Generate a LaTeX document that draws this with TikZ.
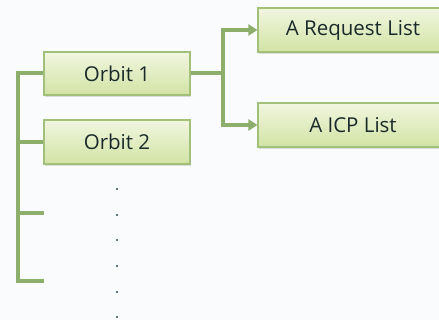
\documentclass[tikz,border=0pt]{standalone}
\usepackage{fontspec}
\setmainfont{Open Sans}
\usetikzlibrary{arrows.meta,shadows}
\definecolor{bgcol}{HTML}{FAFBFD}
\definecolor{boxtop}{HTML}{F1F6E0}
\definecolor{boxbot}{HTML}{D2E3A4}
\definecolor{boxline}{HTML}{A3C07A}
\definecolor{linkcol}{HTML}{8EAE6C}
\definecolor{textcol}{HTML}{1A2A2A}
\definecolor{dotcol}{HTML}{2A4A5A}
\tikzset{
  itembox/.style={draw=boxline, line width=1.1pt, top color=boxtop, bottom color=boxbot,
    text=textcol, font=\fontsize{20.5}{24}\selectfont, inner sep=0pt,
    drop shadow={shadow xshift=0.6pt, shadow yshift=-1.6pt, opacity=0.25}},
  link/.style={draw=linkcol, line width=4pt},
  arrowlink/.style={link, -{Triangle[length=9pt,width=11pt]}},
  vdot/.style={circle, fill=dotcol, inner sep=0pt, minimum size=2.2pt}
}
\begin{document}
\begin{tikzpicture}[x=1pt,y=-1pt]
  \fill[bgcol] (0,0) rectangle (439,320);
  \useasboundingbox (0,0) rectangle (439,320);

  % orbit boxes
  \node[itembox, minimum width=146pt, minimum height=43pt] (o1) at (117,73.5) {Orbit 1};
  \node[itembox, minimum width=146pt, minimum height=44pt] (o2) at (117,142) {Orbit 2};

  % list boxes (run past the right edge)
  \node[itembox, minimum width=184pt, minimum height=44pt] (req) at (350,30) {\hspace*{6pt}A Request List};
  \node[itembox, minimum width=184pt, minimum height=44pt] (icp) at (350,125) {\hspace*{6pt}A ICP List};

  % left trunk and its branches
  \coordinate (ttop) at (18,73.5);
  \coordinate (tbot) at (18,281);
  \coordinate (b2) at (18,142);
  \coordinate (b3) at (18,213);
  \coordinate (s3) at (44,213);
  \coordinate (s4) at (44,281);
  \draw[link] (o1.west) -- (ttop) -- (tbot) -- (s4);
  \draw[link] (b2) -- (o2.west);
  \draw[link] (b3) -- (s3);

  % fork from Orbit 1 to the two lists
  \coordinate (fork) at (223,73.5);
  \draw[link] (o1.east) -- (fork);
  \draw[arrowlink] (fork) |- (req.west);
  \draw[arrowlink] (fork) |- (icp.west);

  % vertical ellipsis
  \foreach \i/\yy in {1/189,2/215,3/240,4/266,5/292,6/317}
    \node[vdot] (d\i) at (117,\yy) {};
\end{tikzpicture}
\end{document}
